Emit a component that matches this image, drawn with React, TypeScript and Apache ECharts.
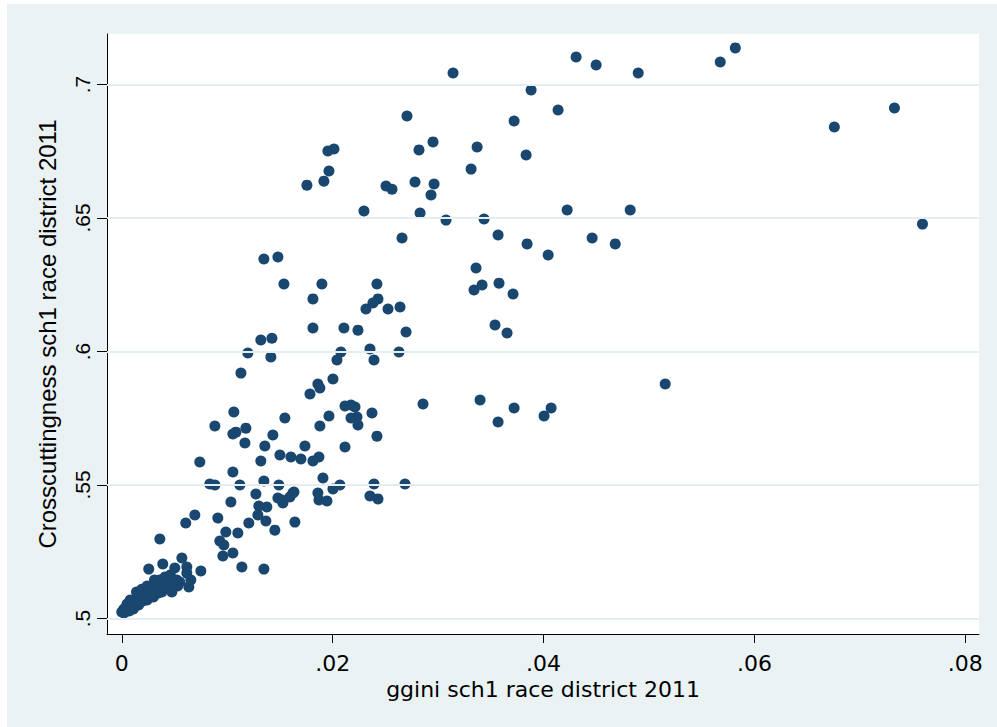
import React, { useEffect, useRef } from "react";
import * as echarts from "echarts";

// ggini sch1 race district 2011 (x) and Crosscuttingness sch1 race district 2011 (y)
const gginiUpper = [
  0.03142, 0.04309, 0.04499, 0.04898, 0.05676, 0.05819, 0.03882, 0.04138, 0.03721, 0.02705,
  0.06758, 0.07328, 0.07594, 0.02952, 0.02819, 0.0337, 0.03835, 0.03313, 0.02962, 0.02933,
  0.02829, 0.03075, 0.03436, 0.04224, 0.04822, 0.03569, 0.03844, 0.04044, 0.04461, 0.0468,
  0.01955, 0.02012, 0.01965, 0.01917, 0.01756, 0.02506, 0.02563, 0.02781, 0.02297, 0.02658,
  0.01348, 0.01481, 0.01538, 0.01898, 0.0242, 0.01813, 0.02316, 0.02382, 0.0243, 0.02525,
  0.02639, 0.01813, 0.02107, 0.0224, 0.02696, 0.0336, 0.03341, 0.03417, 0.03578, 0.03711,
  0.0354, 0.03654, 0.03398, 0.03569, 0.03721, 0.04005, 0.04072, 0.05154,
];
const crossUpper = [
  0.7043, 0.7103, 0.7073, 0.7043, 0.7084, 0.7137, 0.6979, 0.6904, 0.6863, 0.6882,
  0.6841, 0.6912, 0.6477, 0.6785, 0.6755, 0.6766, 0.6736, 0.6683, 0.6627, 0.6586,
  0.6519, 0.6492, 0.6496, 0.653, 0.653, 0.6436, 0.6403, 0.6361, 0.6425, 0.6403,
  0.6751, 0.6758, 0.6676, 0.6638, 0.6623, 0.662, 0.6608, 0.6635, 0.6526, 0.6425,
  0.6346, 0.6354, 0.6253, 0.6253, 0.6253, 0.6197, 0.6159, 0.6182, 0.6197, 0.6159,
  0.6167, 0.6088, 0.6088, 0.608, 0.6073, 0.6313, 0.623, 0.6249, 0.6256, 0.6215,
  0.6099, 0.6069, 0.5818, 0.5736, 0.5788, 0.5758, 0.5788, 0.5878,
];

const gginiMiddle = [
  0.01319, 0.01424, 0.01196, 0.01414, 0.0113, 0.02078, 0.02041, 0.02354, 0.02392, 0.02629,
  0.02003, 0.0186, 0.01879, 0.01785, 0.02117, 0.02174, 0.02212, 0.02174, 0.02231, 0.0224,
  0.02373, 0.01965, 0.01879, 0.01547, 0.0242, 0.02857, 0.02117, 0.01737, 0.015, 0.01604,
  0.01699, 0.01813, 0.0187, 0.01908, 0.02003, 0.02069, 0.02392, 0.02686, 0.02354, 0.0243,
  0.0186, 0.0187, 0.01946, 0.01633, 0.01595, 0.01519, 0.01063, 0.00883, 0.01054, 0.01082,
  0.01177, 0.01168, 0.01433, 0.01357, 0.0074, 0.01054, 0.01319, 0.00835, 0.00883, 0.0112,
  0.01348, 0.0149, 0.01272, 0.01623, 0.01035,
];
const crossMiddle = [
  0.6043, 0.605, 0.5994, 0.5979, 0.5919, 0.5998, 0.5968, 0.6009, 0.5968, 0.5998,
  0.5897, 0.5878, 0.5863, 0.5841, 0.5796, 0.58, 0.5792, 0.5751, 0.5755, 0.5725,
  0.577, 0.5758, 0.5721, 0.5751, 0.5683, 0.5803, 0.5642, 0.5646, 0.5612, 0.5605,
  0.5597, 0.559, 0.5605, 0.5526, 0.5485, 0.55, 0.5504, 0.5504, 0.5459, 0.5448,
  0.547, 0.5444, 0.544, 0.5474, 0.5455, 0.5444, 0.5773, 0.5721, 0.5691, 0.5698,
  0.5713, 0.5657, 0.5687, 0.5646, 0.5586, 0.5549, 0.559, 0.5504, 0.55, 0.55,
  0.5515, 0.55, 0.5466, 0.547, 0.5436,
];

const gginiLower = [
  0.01481, 0.01528, 0.013, 0.01376, 0.00693, 0.00607, 0.00911, 0.01205, 0.01291, 0.01367,
  0.01642, 0.01452, 0.00361, 0.00987, 0.0093, 0.00968, 0.00959, 0.01054, 0.01101, 0.0057,
  0.00389, 0.00256, 0.00503, 0.00617, 0.00617, 0.0075, 0.01139, 0.01348, 0.00655, 0.00636,
  0.00522, 0.00475,
];
const crossLower = [
  0.5451, 0.5433, 0.5421, 0.5418, 0.5388, 0.5358, 0.5376, 0.5358, 0.5388, 0.5365,
  0.5361, 0.5331, 0.5298, 0.5324, 0.529, 0.5275, 0.5234, 0.5245, 0.532, 0.5227,
  0.5204, 0.5185, 0.5189, 0.5193, 0.517, 0.5178, 0.5193, 0.5185, 0.5144, 0.5118,
  0.5144, 0.5099,
];

const gginiCluster = [
  0.0, 0.0002, 0.0005, 0.0008, 0.001, 0.0013, 0.0015, 0.0018, 0.002, 0.0023,
  0.0025, 0.0028, 0.0029, 0.0032, 0.0034, 0.0037, 0.0039, 0.0042, 0.0044, 0.0047,
  0.0048, 0.0051, 0.0055, 0.0017, 0.0022, 0.0027, 0.0031, 0.0036, 0.0041, 0.0046,
  0.0003, 0.0009, 0.0016, 0.0024, 0.003, 0.0038, 0.0046, 0.0053,
  0.0024, 0.0014, 0.0008, 0.0031, 0.0019, 0.0002, 0.0007, 0.0011, 0.0005,
];
const crossCluster = [
  0.5024, 0.5036, 0.5032, 0.5047, 0.5043, 0.5069, 0.5058, 0.5077, 0.5066, 0.5092,
  0.5077, 0.5107, 0.5088, 0.5114, 0.5095, 0.5129, 0.5107, 0.514, 0.5118, 0.5148,
  0.5125, 0.5133, 0.5137, 0.5092, 0.5107, 0.5118, 0.5129, 0.5144, 0.5155, 0.5163,
  0.5024, 0.5036, 0.5051, 0.5069, 0.5081, 0.5099, 0.511, 0.5122,
  0.5122, 0.5099, 0.5069, 0.5144, 0.511, 0.5021, 0.5028, 0.5036, 0.5054,
];

const xTicks = [0, 0.02, 0.04, 0.06, 0.08];
const yTicks = [0.5, 0.55, 0.6, 0.65, 0.7];

const xTitle = "ggini sch1 race district 2011";
const yTitle = "Crosscuttingness sch1 race district 2011";

function pairs(xs: number[], ys: number[]) {
  return xs.map((x, i) => [x, ys[i]]);
}

const fmt = (v: number) => (v === 0 ? "0" : String(+v.toFixed(4)).replace(/^0\./, "."));

export default function App() {
  const ref = useRef<HTMLDivElement>(null);
  useEffect(() => {
    if (!ref.current) return;
    const chart = echarts.init(ref.current, undefined, { renderer: "svg" });
    const points = [
      ...pairs(gginiUpper, crossUpper),
      ...pairs(gginiMiddle, crossMiddle),
      ...pairs(gginiLower, crossLower),
      ...pairs(gginiCluster, crossCluster),
    ];
    chart.setOption({
      animation: false,
      backgroundColor: "#eaf2f3",
      grid: {
        left: 100,
        top: 30,
        right: 18,
        bottom: 93,
        show: true,
        backgroundColor: "#ffffff",
        borderWidth: 0,
      },
      xAxis: {
        type: "value",
        min: -0.0014,
        max: 0.0813,
        name: xTitle,
        nameLocation: "middle",
        nameGap: 44,
        nameTextStyle: { fontFamily: "DejaVu Sans", fontSize: 22, color: "#000" },
        axisLine: { show: true, onZero: false, lineStyle: { color: "#000", width: 1 } },
        axisTick: { show: true, length: 9, customValues: xTicks, lineStyle: { color: "#000" } },
        axisLabel: {
          customValues: xTicks,
          formatter: fmt,
          margin: 18,
          fontFamily: "DejaVu Sans",
          fontSize: 22,
          color: "#000",
        },
        splitLine: { show: false },
      },
      yAxis: {
        type: "value",
        min: 0.4942,
        max: 0.7189,
        name: yTitle,
        nameLocation: "middle",
        nameRotate: 90,
        nameGap: 48,
        nameTextStyle: { fontFamily: "Liberation Sans", fontSize: 24, color: "#000" },
        axisLine: { show: true, onZero: false, lineStyle: { color: "#000", width: 1 } },
        axisTick: { show: true, length: 10, customValues: yTicks, lineStyle: { color: "#000" } },
        axisLabel: {
          customValues: yTicks,
          formatter: fmt,
          rotate: 90,
          margin: 14,
          fontFamily: "Liberation Sans",
          fontSize: 21,
          color: "#000",
        },
        splitLine: { show: false },
      },
      series: [
        {
          type: "line",
          data: [],
          z: 1,
          silent: true,
          markLine: {
            silent: true,
            symbol: "none",
            label: { show: false },
            lineStyle: { color: "#e4eef0", width: 2, type: "solid" },
            data: yTicks.map((v) => ({ yAxis: v })),
          },
        },
        {
          type: "scatter",
          z: 3,
          symbol: "circle",
          symbolSize: 11,
          itemStyle: { color: "#1a476f", opacity: 1 },
          data: points,
        },
      ],
    });
    return () => chart.dispose();
  }, []);
  return (
    <div
      ref={ref}
      style={{ position: "absolute", left: 7, top: 4, width: 990, height: 723 }}
    />
  );
}
